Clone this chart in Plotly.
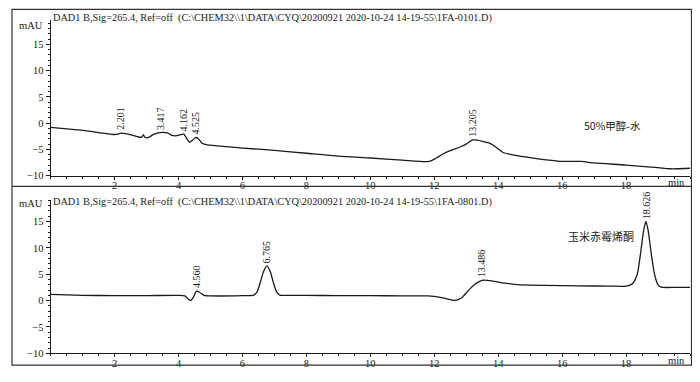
import plotly.graph_objects as go

# page body has an 8px margin; the figure is shifted by it
OFF = 8
W, H = 700 - OFF, 382 - OFF

# ---- data ----
blank_t = [0.0, 0.5, 1.0, 1.5, 1.9, 2.05, 2.2, 2.35, 2.55, 2.75, 2.85, 2.9, 2.95, 3.05, 3.2, 3.35, 3.5,
           3.65, 3.8, 3.95, 4.1, 4.17, 4.25, 4.35, 4.45, 4.53, 4.62, 4.75, 4.9, 5.5, 6.0, 7.0, 8.0, 9.0,
           10.0, 11.0, 11.85, 12.05, 12.3, 12.5, 12.8, 13.0, 13.2, 13.35, 13.55, 13.75, 13.95, 14.15,
           14.5, 15.0, 15.5, 16.0, 16.6, 17.0, 18.0, 19.0, 19.35, 19.6, 20.0]
blank_mau = [-0.8, -1.1, -1.4, -1.8, -2.15, -2.15, -1.9, -2.0, -2.3, -2.65, -2.7, -2.2, -2.75, -2.75, -2.2,
             -1.85, -1.75, -1.85, -2.35, -2.4, -2.15, -2.1, -2.9, -3.65, -3.2, -2.75, -3.0, -3.9, -4.15,
             -4.5, -4.75, -5.2, -5.75, -6.3, -6.65, -7.05, -7.3, -6.7, -5.8, -5.25, -4.55, -4.0, -3.2,
             -3.25, -3.55, -3.85, -4.7, -5.6, -6.1, -6.6, -7.0, -7.3, -7.3, -7.6, -8.0, -8.5, -8.7, -8.7, -8.6]
blank_peaks = [2.201, 3.417, 4.162, 4.525, 13.205]
blank_peak_labels = ["2.201", "3.417", "4.162", "4.525", "13.205"]

zea_t = [0.0, 0.5, 1.0, 2.0, 3.0, 4.0, 4.2, 4.3, 4.38, 4.46, 4.56, 4.68, 4.8, 5.0, 6.0, 6.35, 6.45, 6.55,
         6.65, 6.76, 6.87, 6.97, 7.07, 7.17, 7.5, 8.0, 9.0, 10.0, 11.0, 11.8, 12.2, 12.5, 12.65, 12.85,
         13.05, 13.25, 13.5, 13.8, 14.2, 14.6, 15.5, 16.5, 17.5, 18.0, 18.2, 18.35, 18.45, 18.55, 18.62,
         18.69, 18.79, 18.89, 19.0, 19.1, 19.5, 20.0]
zea_mau = [1.2, 1.1, 1.0, 0.95, 0.95, 1.0, 0.9, 0.3, 0.0, 0.6, 1.8, 1.5, 1.0, 0.9, 0.95, 1.05, 1.6, 3.3,
           5.4, 6.6, 5.5, 3.3, 1.6, 1.05, 1.0, 1.0, 0.95, 0.95, 0.9, 0.9, 0.6, 0.2, 0.05, 0.5, 1.8, 3.0,
           3.85, 3.75, 3.3, 3.05, 2.9, 2.8, 2.75, 2.75, 3.2, 5.0, 8.8, 13.3, 15.0, 13.3, 8.8, 5.0, 3.0,
           2.55, 2.5, 2.5]
zea_peaks = [4.560, 6.765, 13.486, 18.626]
zea_peak_labels = ["4.560", "6.765", "13.486", "18.626"]

x_tickvals = [2, 4, 6, 8, 10, 12, 14, 16, 18]
y_tickvals = [-10, -5, 0, 5, 10, 15]

title_top = "DAD1 B,Sig=265.4, Ref=off  (C:\\CHEM32\\\\1\\DATA\\CYQ\\20200921 2020-10-24 14-19-55\\1FA-0101.D)"
title_bot = "DAD1 B,Sig=265.4, Ref=off  (C:\\CHEM32\\\\1\\DATA\\CYQ\\20200921 2020-10-24 14-19-55\\1FA-0801.D)"
name_top = "50%甲醇-水"
name_bot = "玉米赤霉烯酮"

# ---- layout helpers (window pixel -> paper) ----
def px(x):
    return (x - OFF) / W

def py(y):
    return 1 - (y - OFF) / H

SERIF = "Liberation Serif"
CJK = "Noto Sans CJK SC"
INK = "#1a1a1a"

fig = go.Figure()
fig.add_trace(go.Scatter(x=blank_t, y=blank_mau, mode="lines", xaxis="x", yaxis="y",
                         line=dict(color=INK, width=1.3, shape="spline", smoothing=0.6),
                         showlegend=False, hoverinfo="skip"))
fig.add_trace(go.Scatter(x=zea_t, y=zea_mau, mode="lines", xaxis="x2", yaxis="y2",
                         line=dict(color=INK, width=1.3, shape="spline", smoothing=0.6),
                         showlegend=False, hoverinfo="skip"))

x_left, x_right = 50.7, 690.0
top_bottom, top_top = 178.3, 20.7
bot_bottom, bot_top = 359.0, 202.7
px_per_unit_top = (top_bottom - 45.0) / 25.0
px_per_unit_bot = (bot_bottom - 225.0) / 25.0

xaxis_common = dict(range=[0, 20], showgrid=False, zeroline=False, showline=True, linecolor=INK,
                    linewidth=1, ticks="outside", ticklen=3, tickcolor=INK, tickvals=x_tickvals,
                    tickfont=dict(family=SERIF, size=10.5, color=INK), ticklabelstandoff=-3,
                    minor=dict(dtick=0.5, tick0=0, ticks="outside", ticklen=2, tickcolor=INK),
                    domain=[px(x_left), px(x_right)], fixedrange=True)
yaxis_common = dict(showgrid=False, zeroline=False, showline=True, linecolor=INK, linewidth=1,
                    ticks="outside", ticklen=4, tickcolor=INK, tickvals=y_tickvals,
                    tickfont=dict(family=SERIF, size=10.5, color=INK),
                    minor=dict(dtick=1, tick0=0, ticks="outside", ticklen=2, tickcolor=INK),
                    fixedrange=True)

fig.update_layout(
    width=W, height=H, margin=dict(l=0, r=0, t=0, b=0),
    paper_bgcolor="white", plot_bgcolor="white",
    xaxis=dict(xaxis_common, anchor="y"),
    xaxis2=dict(xaxis_common, anchor="y2"),
    yaxis=dict(yaxis_common, anchor="x", domain=[py(top_bottom), py(top_top)],
               range=[-10, -10 + (top_bottom - top_top) / px_per_unit_top]),
    yaxis2=dict(yaxis_common, anchor="x2", domain=[py(bot_bottom), py(bot_top)],
                range=[-10, -10 + (bot_bottom - bot_top) / px_per_unit_bot]),
)

shapes = [
    dict(type="rect", xref="paper", yref="paper", x0=px(12), x1=px(691.5), y0=py(371), y1=py(9.3),
         line=dict(color="#333", width=1.2)),
    dict(type="line", xref="paper", yref="paper", x0=px(12), x1=px(691.5), y0=py(189.3), y1=py(189.3),
         line=dict(color="#333", width=1.2)),
]
fig.update_layout(shapes=shapes)

ann = []
for title, y in [(title_top, 18.3), (title_bot, 205.5)]:
    ann.append(dict(text=title, xref="paper", yref="paper", x=px(51), y=py(y), xanchor="left",
                    yanchor="middle", showarrow=False, font=dict(family=SERIF, size=10.3, color=INK)))
for y in [25.5, 207]:
    ann.append(dict(text="mAU", xref="paper", yref="paper", x=px(45), y=py(y), xanchor="right",
                    yanchor="middle", showarrow=False, font=dict(family=SERIF, size=10.5, color=INK)))
for y in [185.0, 366.0]:
    ann.append(dict(text="min", xref="paper", yref="paper", x=px(676), y=py(y), xanchor="center",
                    yanchor="middle", showarrow=False, font=dict(family=SERIF, size=10.5, color=INK)))
ann.append(dict(text=name_top, xref="paper", yref="paper", x=px(582), y=py(127), xanchor="left",
                yanchor="middle", showarrow=False, font=dict(family=CJK, size=10.5, color=INK)))
ann.append(dict(text=name_bot, xref="paper", yref="paper", x=px(566), y=py(240), xanchor="left",
                yanchor="middle", showarrow=False, font=dict(family=CJK, size=11, color=INK)))


def value_at(ts, vs, t):
    for i in range(len(ts) - 1):
        if ts[i] <= t <= ts[i + 1]:
            f = (t - ts[i]) / (ts[i + 1] - ts[i])
            return vs[i] + f * (vs[i + 1] - vs[i])
    return vs[-1]


for t, lab in zip(blank_peaks, blank_peak_labels):
    ann.append(dict(text=lab, x=t, y=value_at(blank_t, blank_mau, t), xref="x", yref="y",
                    textangle=-90, xanchor="center", yanchor="bottom", yshift=1, showarrow=False,
                    font=dict(family=SERIF, size=10, color=INK)))
for t, lab in zip(zea_peaks, zea_peak_labels):
    ann.append(dict(text=lab, x=t, y=value_at(zea_t, zea_mau, t), xref="x2", yref="y2",
                    textangle=-90, xanchor="center", yanchor="bottom", yshift=1, showarrow=False,
                    font=dict(family=SERIF, size=10, color=INK)))

fig.update_layout(annotations=ann)
fig.write_html("out.html")
